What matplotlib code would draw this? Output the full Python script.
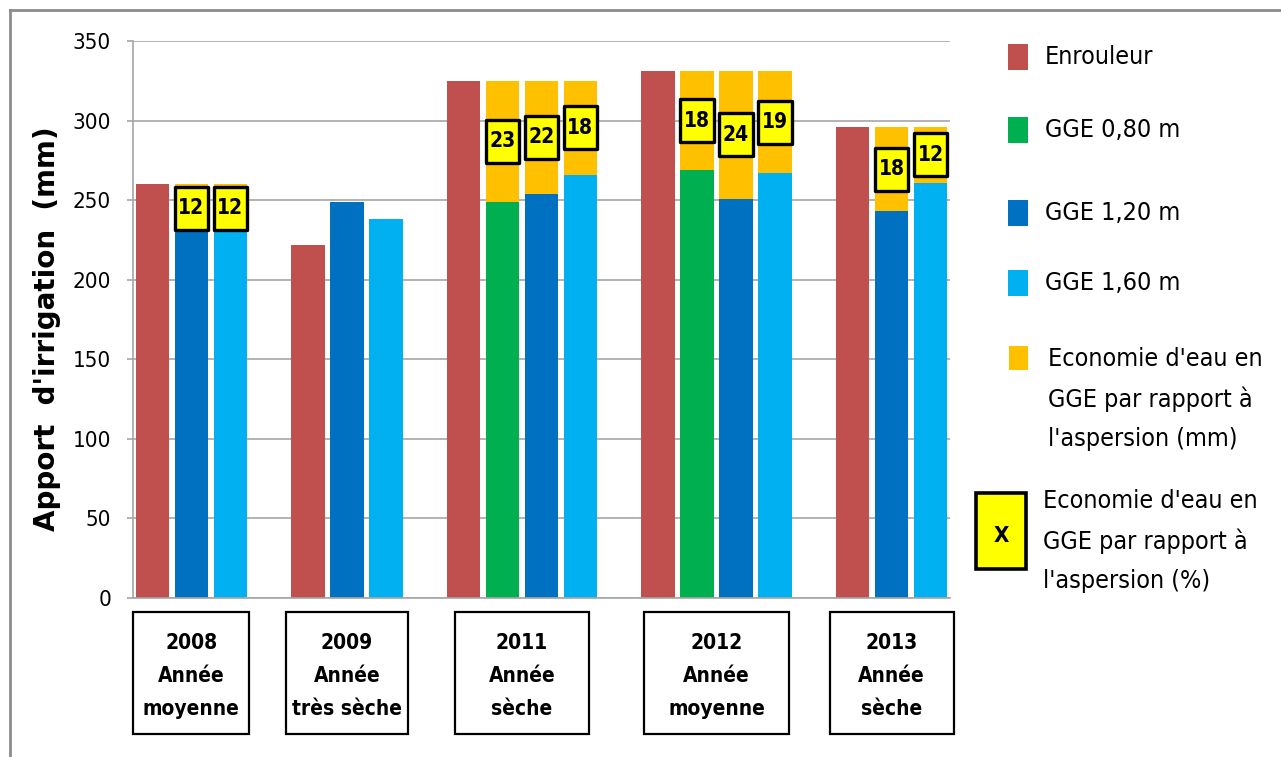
import os
import matplotlib
matplotlib.use("Agg")
import matplotlib.pyplot as plt
from matplotlib import font_manager
from matplotlib.font_manager import FontProperties
from matplotlib.patches import Rectangle
from matplotlib.lines import Line2D

# data
years = ['2008', '2009', '2011', '2012', '2013']
year_notes = ['Année\nmoyenne', 'Année\ntrès sèche', 'Année\nsèche', 'Année\nmoyenne', 'Année\nsèche']
enrouleur = [260, 222, 325, 331, 296]
gge_080 = [None, None, 249, 269, None]
gge_120 = [230, 249, 254, 251, 243]
gge_160 = [230, 238, 266, 267, 261]
pct_080 = [None, None, 23, 18, None]
pct_120 = [12, None, 22, 24, 18]
pct_160 = [12, None, 18, 19, 12]

legend_labels = ['Enrouleur', 'GGE 0,80 m', 'GGE 1,20 m', 'GGE 1,60 m',
                 "Economie d'eau en\nGGE par rapport à\nl'aspersion (mm)",
                 "Economie d'eau en\nGGE par rapport à\nl'aspersion (%)"]
y_label = "Apport  d'irrigation  (mm)"

C_RED = '#C0504D'
C_GREEN = '#00B050'
C_BLUE = '#0070C0'
C_LBLUE = '#00B0F0'
C_ORANGE = '#FFC000'
C_YELLOW = '#FFFF00'


# look for a narrow face (the original uses a condensed Calibri-like font)
def find_font(bold):
    keys = ['liberationsansnarrow', 'dejavusanscondensed', 'robotocondensed',
            'opensans_condensed', 'opensans-condensed', 'notosans-condensed',
            'notosanscondensed', 'arialn']
    skip = ['italic', 'oblique', 'semi', 'extra', 'light', 'medium', 'black', 'thin']
    for key in keys:
        for f in font_manager.fontManager.ttflist:
            base = os.path.basename(f.fname).lower()
            if key not in base or any(s in base for s in skip):
                continue
            if ('bold' in base) == bold:
                return f.fname
    return None


reg_file = find_font(False)
bold_file = find_font(True)
if reg_file:
    NREG = lambda size: FontProperties(fname=reg_file, size=size)
    SC = 1.0
else:
    NREG = lambda size: FontProperties(family='DejaVu Sans', size=size)
    SC = 0.9
if bold_file:
    NBOLD = lambda size: FontProperties(fname=bold_file, size=size)
    SCB = 1.0
else:
    NBOLD = lambda size: FontProperties(family='DejaVu Sans', weight='bold', size=size)
    SCB = 0.9

fig = plt.figure(figsize=(12.81, 7.57), dpi=100)
ax = fig.add_axes([133 / 1281, 1 - 598 / 757, 817 / 1281, 557 / 757])

W = 0.86
slot = 0
group_centres = []
labels = []   # (x, y_centre, pct)
for i in range(len(years)):
    start = slot
    ax.bar(slot, enrouleur[i], W, color=C_RED, zorder=2)
    slot += 1
    for vals, pcts, col in ((gge_080, pct_080, C_GREEN),
                            (gge_120, pct_120, C_BLUE),
                            (gge_160, pct_160, C_LBLUE)):
        v = vals[i]
        if v is None:
            continue
        ax.bar(slot, v, W, color=col, zorder=2)
        if pcts[i] is not None:
            ax.bar(slot, enrouleur[i] - v, W, bottom=v, color=C_ORANGE, zorder=2)
            labels.append((slot, (v + enrouleur[i]) / 2, pcts[i]))
        slot += 1
    group_centres.append((start + slot - 1) / 2)
    slot += 1

# percent boxes
BOX_H = 27
for x, yc, p in labels:
    ax.add_patch(Rectangle((x - W / 2, yc - BOX_H / 2), W, BOX_H, facecolor=C_YELLOW,
                           edgecolor='black', linewidth=2.4, joinstyle='round', zorder=4))
    ax.text(x, yc, str(p), ha='center', va='center', fontproperties=NBOLD(15 * SCB), zorder=5)

# category boxes under axis
box_w = [2.98, 3.14, 3.45, 3.74, 3.19]
for i, c in enumerate(group_centres):
    ax.add_patch(Rectangle((c - box_w[i] / 2, -85.5), box_w[i], 76.5, facecolor='white',
                           edgecolor='black', linewidth=1.6, clip_on=False, zorder=3))
    ax.text(c, -49, years[i] + '\n' + year_notes[i], ha='center', va='center',
            fontproperties=NBOLD(15 * SCB), linespacing=1.79, clip_on=False, zorder=4)

ax.set_xlim(-0.5, slot - 1 - 0.5)
ax.set_ylim(0, 350)
ax.set_yticks(range(0, 351, 50))
ax.set_xticks([])
ax.grid(axis='y', color='#A6A6A6', linewidth=1.2, zorder=0)
ax.set_axisbelow(True)
for s in ('top', 'right'):
    ax.spines[s].set_visible(False)
for s in ('left', 'bottom'):
    ax.spines[s].set_color('#A6A6A6')
    ax.spines[s].set_linewidth(1.2)
ax.tick_params(axis='y', length=4.3, color='#A6A6A6', width=1.2, pad=11.5)
for t in ax.get_yticklabels():
    t.set_fontproperties(NREG(16 * SC))


def fx(px):
    return px / 1281


def fy(py):
    return 1 - py / 757


fig.text(fx(47), fy(329), y_label, rotation=90, ha='center', va='center',
         fontsize=20, fontweight='bold', family='DejaVu Sans')

# legend drawn by hand
leg_cols = [C_RED, C_GREEN, C_BLUE, C_LBLUE]
leg_y = [57, 130, 213, 283]
for col, yy, lab in zip(leg_cols, leg_y, legend_labels[:4]):
    fig.patches.append(Rectangle((fx(1008), fy(yy + 13)), fx(20), 26 / 757, facecolor=col,
                                 transform=fig.transFigure))
    fig.text(fx(1045), fy(yy), lab, ha='left', va='center', fontproperties=NREG(18 * SC))
fig.patches.append(Rectangle((fx(1009), fy(370)), fx(19), 24 / 757, facecolor=C_ORANGE,
                             transform=fig.transFigure))
fig.text(fx(1048), fy(399), legend_labels[4], ha='left', va='center',
         fontproperties=NREG(18 * SC), linespacing=1.76)
fig.patches.append(Rectangle((fx(976), fy(569)), fx(50), 76 / 757, facecolor=C_YELLOW,
                             edgecolor='black', linewidth=2.6, transform=fig.transFigure))
fig.text(fx(1001), fy(536), 'X', ha='center', va='center', fontproperties=NBOLD(16 * SCB))
fig.text(fx(1043), fy(541), legend_labels[5], ha='left', va='center',
         fontproperties=NREG(18 * SC), linespacing=1.76)

# outer frame
fig.add_artist(Line2D([fx(10), 1], [fy(10), fy(10)], color='#8C8C8C', linewidth=2,
                      transform=fig.transFigure))
fig.add_artist(Line2D([fx(10), fx(10)], [0, fy(10)], color='#8C8C8C', linewidth=2,
                      transform=fig.transFigure))

fig.savefig('out.png', dpi=100)
